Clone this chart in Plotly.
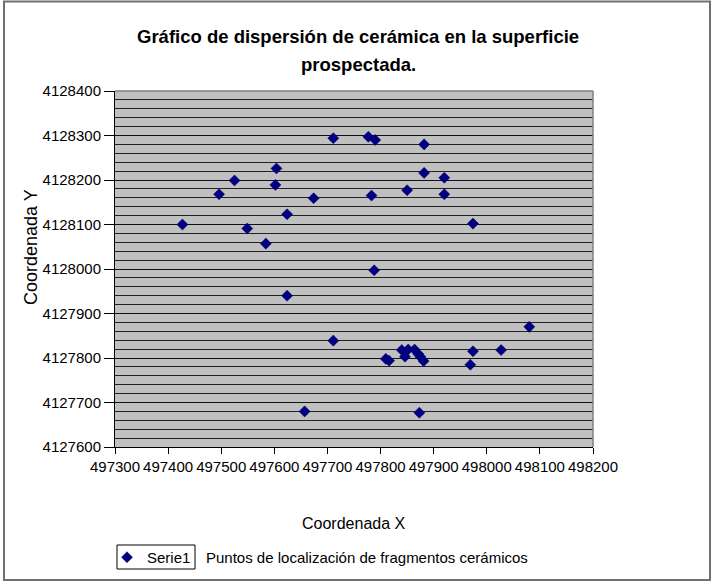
import plotly.graph_objects as go

coord_x = [497427, 497496, 497525, 497549, 497584, 497604, 497602, 497624, 497624,
           497674, 497657, 497711, 497711, 497777, 497790, 497783, 497788, 497810,
           497816, 497840, 497846, 497852, 497850, 497864, 497871, 497875, 497881,
           497882, 497882, 497873, 497920, 497920, 497974, 497974, 497969, 498027,
           498080]
coord_y = [4128100, 4128168, 4128199, 4128091, 4128057, 4128226, 4128189, 4128123,
           4127940, 4128159, 4127680, 4128294, 4127839, 4128297, 4128290, 4128165,
           4127997, 4127798, 4127794, 4127818, 4127803, 4127819, 4128177, 4127819,
           4127809, 4127803, 4127793, 4128280, 4128216, 4127677, 4128205, 4128168,
           4128102, 4127815, 4127785, 4127818, 4127870]

series_name = "Serie1"
title_lines = ["Gráfico de dispersión de cerámica en la superficie", "prospectada."]
x_title = "Coordenada X"
y_title = "Coordenada Y"
legend_note = "Puntos de localización de fragmentos cerámicos"
x_range = [497300, 498200]
y_range = [4127600, 4128400]

FONT = "Liberation Sans, Arial, sans-serif"
W, H = 715, 585
L, R, T, B = 115, 122, 91, 138
pw, ph = W - L - R, H - T - B

def px(xp):
    return (xp - L) / pw

def py(yp):
    return (H - B - yp) / ph

fig = go.Figure()
fig.add_trace(go.Scatter(
    x=coord_x, y=coord_y, mode="markers", name=series_name,
    marker=dict(symbol="diamond", size=8.5, color="#000080",
                line=dict(width=0.5, color="#000060")),
    showlegend=True,
))

fig.update_layout(
    width=W, height=H,
    margin=dict(l=L, r=R, t=T, b=B, autoexpand=False),
    paper_bgcolor="white",
    plot_bgcolor="#C0C0C0",
    font=dict(family=FONT, color="black"),
    showlegend=True,
    legend=dict(
        x=px(107), y=py(541), xanchor="left", yanchor="top",
        borderwidth=0, bgcolor="rgba(0,0,0,0)",
        font=dict(size=15, family=FONT), itemwidth=30,
    ),
    xaxis=dict(
        range=x_range, dtick=100, tick0=497300, tickformat="d",
        showgrid=False, zeroline=False,
        showline=True, linecolor="black", linewidth=1,
        ticks="outside", ticklen=6, tickcolor="black",
        tickfont=dict(size=15, family=FONT),
    ),
    yaxis=dict(
        range=y_range, dtick=100, tick0=4127600, tickformat="d",
        showgrid=True, gridcolor="#111111", gridwidth=1,
        minor=dict(dtick=20, showgrid=True, gridcolor="#222222", gridwidth=1),
        zeroline=False,
        showline=True, linecolor="black", linewidth=1,
        ticks="outside", ticklen=10, tickcolor="black",
        tickfont=dict(size=15, family=FONT),
    ),
)

# plot-area border (top and right in gray)
fig.add_shape(type="line", xref="paper", yref="paper", x0=0, x1=1, y0=1, y1=1,
              line=dict(color="#808080", width=1.5))
fig.add_shape(type="line", xref="paper", yref="paper", x0=1, x1=1, y0=0, y1=1,
              line=dict(color="#808080", width=1.5))
# outer chart frame
fig.add_shape(type="rect", xref="paper", yref="paper",
              x0=px(4), x1=px(710), y0=py(580), y1=py(1.5),
              line=dict(color="#707070", width=2))
# legend key box
fig.add_shape(type="rect", xref="paper", yref="paper",
              x0=px(117), x1=px(195), y0=py(569), y1=py(545),
              line=dict(color="black", width=1), fillcolor="rgba(0,0,0,0)")

ann = [
    dict(text="<b>%s</b>" % title_lines[0], x=px(358), y=py(37), size=18.5),
    dict(text="<b>%s</b>" % title_lines[1], x=px(358), y=py(65), size=18.5),
    dict(text=x_title, x=px(354), y=py(523), size=16),
    dict(text=legend_note, x=px(204), y=py(557), size=15, xanchor="left"),
]
for a in ann:
    fig.add_annotation(text=a["text"], x=a["x"], y=a["y"], xref="paper", yref="paper",
                       showarrow=False, xanchor=a.get("xanchor", "center"), yanchor="middle",
                       font=dict(size=a["size"], family=FONT, color="black"))
fig.add_annotation(text=y_title, x=px(31), y=py(247), xref="paper", yref="paper",
                   showarrow=False, textangle=-90, xanchor="center", yanchor="middle",
                   font=dict(size=18, family=FONT, color="black"))

fig.write_html("out.html", config={"displayModeBar": False},
               post_script="document.body.style.margin='0px';")
